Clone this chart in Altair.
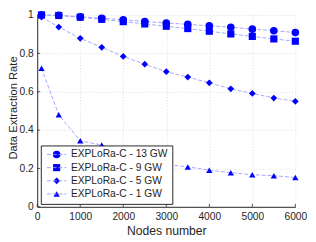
import altair as alt
import pandas as pd

nodes = [100, 500, 1000, 1500, 2000, 2500, 3000, 3500, 4000, 4500, 5000, 5500, 6000]
gw13 = [1.0, 0.998, 0.99, 0.983, 0.975, 0.966, 0.958, 0.951, 0.943, 0.936, 0.926, 0.918, 0.908]
gw9 = [1.0, 0.997, 0.988, 0.977, 0.965, 0.953, 0.941, 0.929, 0.915, 0.901, 0.888, 0.875, 0.863]
gw5 = [0.989, 0.937, 0.878, 0.831, 0.784, 0.743, 0.704, 0.676, 0.646, 0.615, 0.591, 0.567, 0.55]
gw1 = [0.722, 0.48, 0.344, 0.322, 0.28, 0.245, 0.22, 0.208, 0.191, 0.178, 0.167, 0.162, 0.153]
labels = ["EXPLoRa-C - 13 GW", "EXPLoRa-C - 9 GW", "EXPLoRa-C - 5 GW", "EXPLoRa-C - 1 GW"]
gw_keys = ["13", "9", "5", "1"]
shapes = ["circle", "square", "diamond", "triangle-up"]
sizes = [60, 42, 64, 80]
x_ticks = [0, 1000, 2000, 3000, 4000, 5000, 6000]
y_ticks = [0, 0.2, 0.4, 0.6, 0.8, 1]

rows = []
for lab, key, vals in zip(labels, gw_keys, [gw13, gw9, gw5, gw1]):
    for n, v in zip(nodes, vals):
        rows.append({"x": n, "y": v, "series": lab, "gw": key})
df = pd.DataFrame(rows)

W, H = 265, 197
BLUE = "#0000ff"
LIGHT = "#9a9aff"
DARK = "#262626"

xs = alt.Scale(domain=[0, 6000], nice=False, zero=False)
ys = alt.Scale(domain=[0, 1], nice=False)

x_axis = alt.Axis(values=x_ticks, format="d", title="Nodes number", grid=True,
                  labelFlush=False, ticks=False, tickSize=0, labelPadding=5,
                  titlePadding=3)
y_axis = alt.Axis(values=y_ticks, format="~g", title="Data Extraction Rate", grid=True,
                  ticks=False, tickSize=0, labelPadding=4,
                  titleX=-24.2, titleY=95, titleBaseline="middle", titleFontSize=11.5)

# dashed line layer; its legend only draws the dashed strokes (transparent, on top)
lines = alt.Chart(df).mark_line(strokeDash=[4, 2], strokeWidth=0.9).encode(
    x=alt.X("x:Q", scale=xs, axis=x_axis),
    y=alt.Y("y:Q", scale=ys, axis=y_axis),
    stroke=alt.Stroke("series:N", scale=alt.Scale(domain=labels, range=[LIGHT] * 4),
                      legend=alt.Legend(orient="none", legendX=7.7, legendY=138, title=None,
                                        padding=0, symbolType="M-2.5,0H2.5", symbolSize=64,
                                        symbolDash=[4, 2], symbolStrokeWidth=0.9,
                                        symbolFillColor="transparent",
                                        symbolOffset=7, labelOffset=9.4, labelFontSize=10.5,
                                        labelOpacity=0, rowPadding=2.5, zindex=2,
                                        labelLimit=200)),
)

shape_legend = alt.Legend(orient="none", legendX=3.7, legendY=134, title=None,
                          padding=4, symbolFillColor=BLUE,
                          symbolStrokeWidth=0, symbolOffset=7,
                          labelOffset=9.4, labelFontSize=10.5,
                          labelColor=DARK, fillColor="white", strokeColor=DARK,
                          labelExpr="'EXPLoRa-C - ' + datum.label + ' GW'",
                          rowPadding=2.5, zindex=0, labelLimit=200)

points = alt.Chart(df).mark_point(filled=True, opacity=1, color=BLUE, strokeWidth=0).encode(
    x=alt.X("x:Q", scale=xs, axis=x_axis),
    y=alt.Y("y:Q", scale=ys, axis=y_axis),
    shape=alt.Shape("gw:N", scale=alt.Scale(domain=gw_keys, range=shapes),
                    legend=shape_legend),
    size=alt.Size("gw:N", scale=alt.Scale(domain=gw_keys, range=sizes),
                  legend=shape_legend),
)

xt = pd.DataFrame({"x": x_ticks})
yt = pd.DataFrame({"y": y_ticks})
xtick_rules = alt.Chart(xt).mark_rule(color=DARK, strokeWidth=0.8).encode(
    x=alt.X("x:Q", scale=xs, axis=x_axis), y=alt.value(H), y2=alt.value(H - 3))
ytick_rules = alt.Chart(yt).mark_rule(color=DARK, strokeWidth=0.8).encode(
    y=alt.Y("y:Q", scale=ys, axis=y_axis), x=alt.value(0), x2=alt.value(3))

chart = alt.layer(lines, xtick_rules, ytick_rules, points).properties(
    width=W, height=H,
    autosize=alt.AutoSizeParams(type="none"),
    padding={"left": 30, "top": 4, "right": 13, "bottom": 33},
).configure_view(stroke=None).configure_axis(
    labelFont="Liberation Sans", titleFont="Liberation Sans",
    labelFontSize=10.5, titleFontSize=12.5, titleFontWeight="normal",
    labelColor=DARK, titleColor=DARK, domainColor=DARK, domainWidth=1,
    gridColor="#d4d4d4", gridDash=[1, 2], gridWidth=0.8,
).configure_legend(labelFont="Liberation Sans")

chart.save("out.html", embed_options={"renderer": "svg", "actions": False})
